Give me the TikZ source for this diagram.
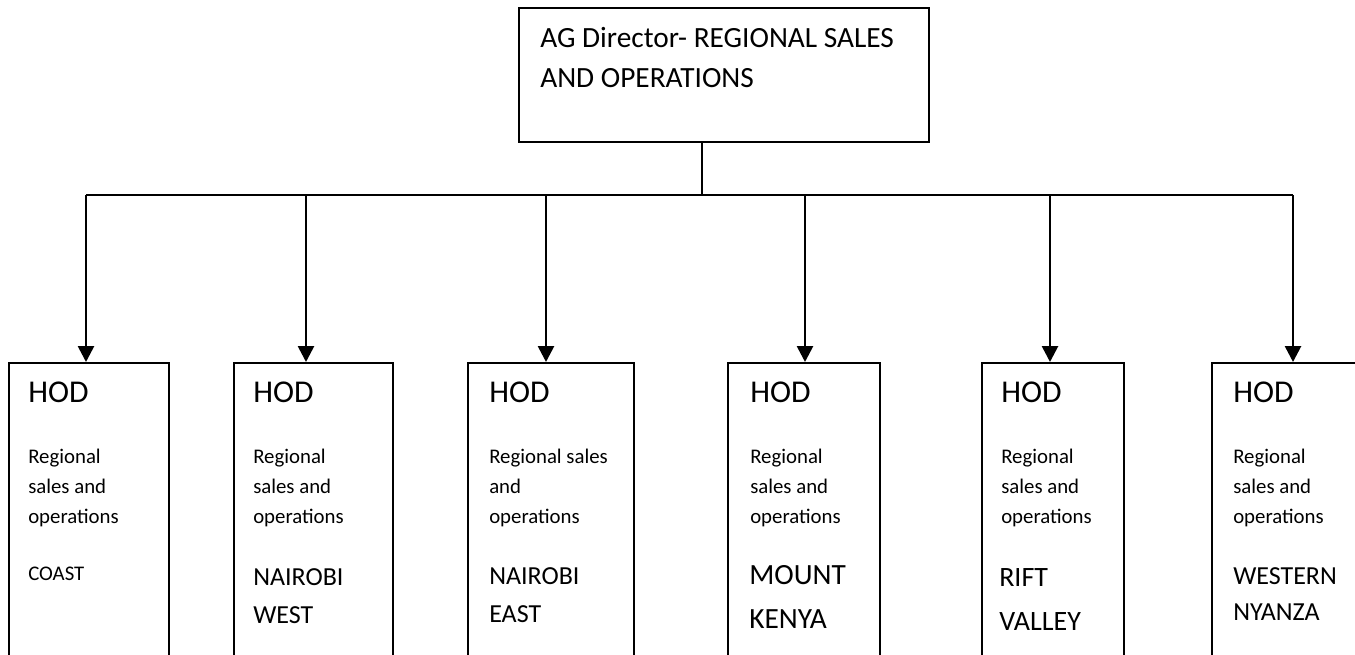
\documentclass[tikz,border=0pt]{standalone}
\usepackage{fontspec}
\setmainfont{Carlito}
\usetikzlibrary{arrows.meta,positioning}

\begin{document}
\begin{tikzpicture}[x=0.75pt,y=-0.75pt,>={Triangle[length=12pt,width=12pt]},
    head box/.style={draw,line width=1.5pt,anchor=north west,inner sep=0pt,minimum width=307.5pt,minimum height=100.5pt},
    hod box/.style={draw,line width=1.5pt,anchor=north west,inner sep=0pt,minimum height=240pt},
    txt/.style={anchor=base west,inner sep=0pt,align=left},
    head text/.style={txt,font=\fontsize{22}{30}\selectfont},
    hod text/.style={txt,font=\fontsize{23.8}{27}\selectfont},
    role text/.style={txt,font=\fontsize{15.6}{22.5}\selectfont},
    link/.style={line width=2pt}]

\useasboundingbox (0,0) rectangle (1355,654);
\clip (0,0) rectangle (1355,654);

% director (text anchored at its last line)
\node[head box] (head) at (518,7) {};
\node[head text] (headT) at (540,87) {AG Director- REGIONAL SALES\\AND OPERATIONS};

% regional heads
\node[hod box,minimum width=120pt]   (coast)   at (8,362) {};
\node[hod box,minimum width=119pt]   (nbiW)    at (233,362) {};
\node[hod box,minimum width=124.5pt] (nbiE)    at (467,362) {};
\node[hod box,minimum width=114pt]   (mtKenya) at (727,362) {};
\node[hod box,minimum width=106.5pt] (rift)    at (981,362) {};
\node[hod box,minimum width=150pt]   (western) at (1211,362) {};

\node[hod text] (coastH)   at (28,402)   {HOD};
\node[hod text] (nbiWH)    at (253,402)  {HOD};
\node[hod text] (nbiEH)    at (489,402)  {HOD};
\node[hod text] (mtKenyaH) at (750,402)  {HOD};
\node[hod text] (riftH)    at (1001,402) {HOD};
\node[hod text] (westernH) at (1233,402) {HOD};

\node[role text] (coastR)   at (28,523)   {Regional\\sales and\\operations};
\node[role text] (nbiWR)    at (253,523)  {Regional\\sales and\\operations};
\node[role text] (nbiER)    at (489,523)  {Regional sales\\and\\operations};
\node[role text] (mtKenyaR) at (750,523)  {Regional\\sales and\\operations};
\node[role text] (riftR)    at (1001,523) {Regional\\sales and\\operations};
\node[role text] (westernR) at (1233,523) {Regional\\sales and\\operations};

\node[role text] (coastN) at (28,580) {COAST};
\node[txt,font=\fontsize{19.5}{28.5}\selectfont] (nbiWN) at (253,623) {NAIROBI\\WEST};
\node[txt,font=\fontsize{19.5}{28.5}\selectfont] (nbiEN) at (489,622) {NAIROBI\\EAST};
\node[txt,font=\fontsize{22}{32.3}\selectfont] (mtKenyaN) at (749,628) {MOUNT\\KENYA};
\node[txt,font=\fontsize{21}{33}\selectfont] (riftN) at (999,630) {RIFT\\VALLEY};
\node[txt,font=\fontsize{19.5}{26.3}\selectfont] (westernN) at (1233,620) {WESTERN\\NYANZA};

% connectors
\coordinate (fork) at (702,195);
\coordinate (c1) at (86,195);
\coordinate (c2) at (306,195);
\coordinate (c3) at (546,195);
\coordinate (c4) at (805,195);
\coordinate (c5) at (1050,195);
\coordinate (c6) at (1293,195);

\draw[link] (head.south -| fork) -- (fork);
\draw[link] (c1) -- (c6);
\draw[link,->] (c1) -- (c1 |- coast.north);
\draw[link,->] (c2) -- (c2 |- nbiW.north);
\draw[link,->] (c3) -- (c3 |- nbiE.north);
\draw[link,->] (c4) -- (c4 |- mtKenya.north);
\draw[link,->] (c5) -- (c5 |- rift.north);
\draw[link,->] (c6) -- (c6 |- western.north);
\end{tikzpicture}
\end{document}
